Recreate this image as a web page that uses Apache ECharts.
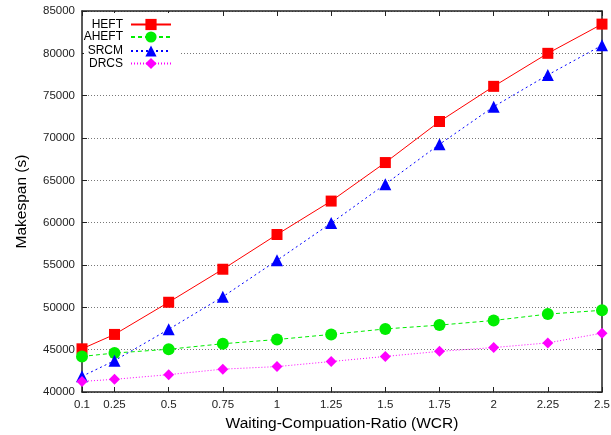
<!DOCTYPE html>
<html>
<head>
<meta charset="utf-8">
<script src="https://cdn.jsdelivr.net/npm/echarts@6/dist/echarts.min.js"></script>
<style>
  html, body { margin: 0; padding: 0; background: #fff; }
  #chart { width: 611px; height: 435px; }
</style>
</head>
<body>
<div id="chart"></div>
<script>
// Waiting-Computation-Ratio values on the x axis
const wcr = [0.1, 0.25, 0.5, 0.75, 1, 1.25, 1.5, 1.75, 2, 2.25, 2.5];

// Makespan (s) for each scheduling algorithm
const heft  = [45100, 46800, 50600, 54500, 58600, 62550, 67100, 71950, 76100, 80000, 83450];
const aheft = [44200, 44600, 45050, 45700, 46200, 46800, 47450, 47900, 48450, 49200, 49650];
const srcm  = [41850, 43700, 47400, 51250, 55550, 59950, 64550, 69250, 73700, 77450, 80950];
const drcs  = [41250, 41500, 42050, 42700, 43000, 43600, 44200, 44800, 45250, 45800, 46950];

const yMin = 40000, yMax = 85000, yStep = 5000;
const font = 'Liberation Sans, Arial, Helvetica, sans-serif';

const pairs = arr => wcr.map((x, i) => [x, arr[i]]);

const seriesDefs = [
  { name: 'HEFT',  data: heft,  color: '#ff0000', symbol: 'rect',     size: 11, type: 'solid' },
  { name: 'AHEFT', data: aheft, color: '#00ee00', symbol: 'circle',   size: 12, type: [4, 3] },
  { name: 'SRCM',  data: srcm,  color: '#0000ff', symbol: 'triangle', size: 12, type: [2, 3] },
  { name: 'DRCS',  data: drcs,  color: '#ff00ff', symbol: 'diamond',  size: 11, type: [1, 2] }
];

const chart = echarts.init(document.getElementById('chart'), null, { renderer: 'canvas' });

// vertical centre of each key row
const legendRows = [25.5, 38, 52, 64.5];

chart.setOption({
  animation: false,
  backgroundColor: '#fff',
  grid: { left: 82, right: 9, top: 11, bottom: 43, containLabel: false, outerBoundsMode: 'none' },
  graphic: [{
    type: 'rect',
    z: 1,
    shape: { x: 84, y: 13, width: 95, height: 57 },
    style: { fill: '#fff' },
    silent: true
  }],
  legend: seriesDefs.map((s, i) => ({
    data: [s.name],
    orient: 'vertical',
    align: 'right',
    right: 439,
    top: legendRows[i] - 7,
    itemWidth: 40,
    itemHeight: 14,
    itemGap: 0,
    padding: 0,
    z: 5,
    textStyle: { fontFamily: font, fontSize: 12, color: '#000', padding: [0, 3, 0, 0] }
  })),
  xAxis: [{
    type: 'value',
    min: 0.1,
    max: 2.5,
    name: 'Waiting-Compuation-Ratio (WCR)',
    nameLocation: 'middle',
    nameGap: 24,
    nameTextStyle: { fontFamily: font, fontSize: 15.5, color: '#000' },
    axisLine: { show: true, lineStyle: { color: '#222', width: 1.5 } },
    axisTick: { show: true, inside: true, length: 5, customValues: wcr, lineStyle: { color: '#222' } },
    axisLabel: { customValues: wcr, fontFamily: font, fontSize: 11.5, color: '#222', margin: 7 },
    splitLine: { show: false }
  }, {
    type: 'value',
    position: 'top',
    min: 0.1,
    max: 2.5,
    axisLine: { show: true, lineStyle: { color: '#222', width: 1.5 } },
    axisTick: { show: true, inside: true, length: 5, customValues: wcr, lineStyle: { color: '#222' } },
    axisLabel: { show: false },
    splitLine: { show: false }
  }],
  yAxis: [{
    type: 'value',
    min: yMin,
    max: yMax,
    interval: yStep,
    name: 'Makespan (s)',
    nameLocation: 'middle',
    nameGap: 52,
    nameTextStyle: { fontFamily: font, fontSize: 15.5, color: '#000' },
    axisLine: { show: true, lineStyle: { color: '#222', width: 1.5 } },
    axisTick: { show: true, inside: true, length: 5, lineStyle: { color: '#222' } },
    axisLabel: { fontFamily: font, fontSize: 11.5, color: '#222', margin: 7, formatter: v => String(v) },
    splitLine: { show: true, lineStyle: { color: '#555', width: 0.8, type: [1, 2] } }
  }, {
    type: 'value',
    position: 'right',
    min: yMin,
    max: yMax,
    interval: yStep,
    axisLine: { show: true, lineStyle: { color: '#222', width: 1.5 } },
    axisTick: { show: true, inside: true, length: 5, lineStyle: { color: '#222' } },
    axisLabel: { show: false },
    splitLine: { show: false }
  }],
  series: seriesDefs.map(s => ({
    name: s.name,
    type: 'line',
    xAxisIndex: 0,
    yAxisIndex: 0,
    data: pairs(s.data),
    symbol: s.symbol,
    symbolSize: s.size,
    clip: false,
    z: 3,
    itemStyle: { color: s.color },
    lineStyle: { color: s.color, width: 1, type: s.type }
  }))
});
</script>
</body>
</html>
